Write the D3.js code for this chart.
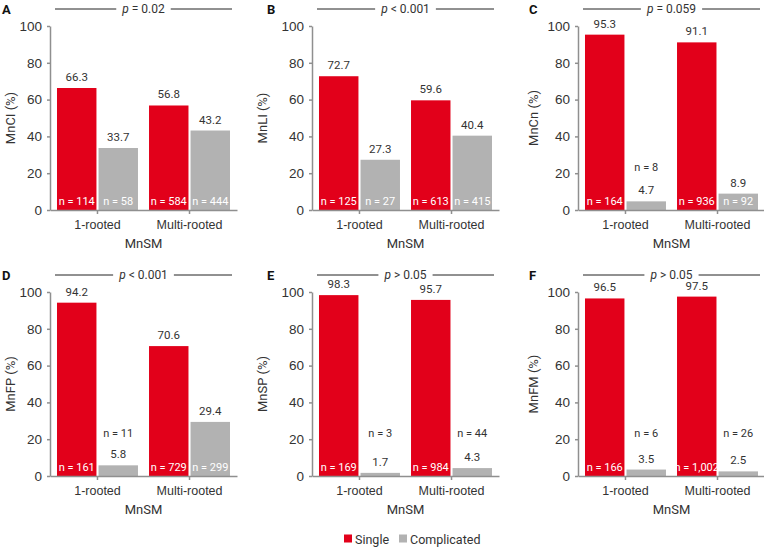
<!DOCTYPE html>
<html><head><meta charset="utf-8">
<script src="https://cdn.jsdelivr.net/npm/d3@7"></script>
<style>
body{margin:0;background:#fff;}
svg{font-family:Roboto,"Liberation Sans",sans-serif;}
</style></head>
<body><svg id="c" width="764" height="547"></svg>
<script>
const categories = ["1-rooted", "Multi-rooted"];
const seriesNames = ["Single", "Complicated"];
const panelLetters = ["A", "B", "C", "D", "E", "F"];
const yTitles = ["MnCI (%)", "MnLI (%)", "MnCn (%)", "MnFP (%)", "MnSP (%)", "MnFM (%)"];
const pRelations = ["=", "<", "=", "<", ">", ">"];
const pValues = ["0.02", "0.001", "0.059", "0.001", "0.05", "0.05"];
const singleValues = [[66.3, 56.8], [72.7, 59.6], [95.3, 91.1], [94.2, 70.6], [98.3, 95.7], [96.5, 97.5]];
const complicatedValues = [[33.7, 43.2], [27.3, 40.4], [4.7, 8.9], [5.8, 29.4], [1.7, 4.3], [3.5, 2.5]];
const singleN = [["114", "584"], ["125", "613"], ["164", "936"], ["161", "729"], ["169", "984"], ["166", "1,002"]];
const complicatedN = [["58", "444"], ["27", "415"], ["8", "92"], ["11", "299"], ["3", "44"], ["6", "26"]];
const yTicks = [0, 20, 40, 60, 80, 100];
const xTitle = "MnSM";

const colors = {Single: "#e2001a", Complicated: "#b2b2b2"};
const axisX = [50, 312, 578];
const rowTop = [26, 292];
const yTitleX = [10, 262, 533];
const letterX = [2, 267, 529];
const W = 187, H = 184;
const txt = "#333";

const svg = d3.select("#c");
const y = d3.scaleLinear().domain([0, 100]).range([H, 0]);
const x0 = d3.scaleBand().domain(categories).range([0, W]).paddingInner(0.12).paddingOuter(0.076);
const x1 = d3.scaleBand().domain(seriesNames).range([0, x0.bandwidth()]).paddingInner(0.05);

panelLetters.forEach((L, i) => {
  const col = i % 3, row = Math.floor(i / 3);
  const g = svg.append("g").attr("transform", `translate(${axisX[col]},${rowTop[row]})`);

  // panel letter
  svg.append("text").attr("x", letterX[col]).attr("y", rowTop[row] - 12)
    .attr("font-weight", "bold").attr("font-size", 13).attr("fill", "#111").text(L);

  // p-value line
  const pg = g.append("g").attr("transform", `translate(0,-17)`);
  const pt = pg.append("text").attr("x", 93.5).attr("y", 3.5).attr("text-anchor", "middle")
    .attr("font-size", 12).attr("fill", txt);
  pt.append("tspan").attr("font-style", "italic").text("p");
  pt.append("tspan").text(` ${pRelations[i]} ${pValues[i]}`);
  const tw = pt.node().getComputedTextLength();
  pg.append("line").attr("x1", 5).attr("x2", 93.5 - tw / 2 - 6).attr("y1", 0).attr("y2", 0)
    .attr("stroke", "#222").attr("stroke-width", 1);
  pg.append("line").attr("x1", 93.5 + tw / 2 + 6).attr("x2", 182).attr("y1", 0).attr("y2", 0)
    .attr("stroke", "#222").attr("stroke-width", 1);

  // y axis
  const ya = g.append("g").call(d3.axisLeft(y).tickValues(yTicks).tickSize(3).tickPadding(5).tickSizeOuter(0));
  ya.selectAll("path,line").attr("stroke", "#8f8f8f").attr("stroke-width", 1.5);
  ya.selectAll("text").attr("font-size", 13.5).attr("fill", txt).attr("font-family", "inherit");

  // bars
  const data = categories.map((c, k) => [
    {cat: c, s: "Single", v: singleValues[i][k], n: singleN[i][k]},
    {cat: c, s: "Complicated", v: complicatedValues[i][k], n: complicatedN[i][k]}
  ]).flat();

  g.selectAll("rect.bar").data(data).join("rect")
    .attr("x", d => x0(d.cat) + x1(d.s)).attr("width", x1.bandwidth())
    .attr("y", d => y(d.v)).attr("height", d => H - y(d.v))
    .attr("fill", d => colors[d.s]);

  // value labels
  g.selectAll("text.val").data(data).join("text")
    .attr("x", d => x0(d.cat) + x1(d.s) + x1.bandwidth() / 2)
    .attr("y", d => Math.max(y(d.v) - 7, -4)).attr("text-anchor", "middle")
    .attr("font-size", 11.5).attr("fill", txt).text(d => d.v.toFixed(1));

  // n labels
  g.selectAll("text.n").data(data).join("text")
    .attr("x", d => x0(d.cat) + x1(d.s) + x1.bandwidth() / 2)
    .attr("y", d => d.v < 8 ? H - 39 : H - 5)
    .attr("text-anchor", "middle").attr("font-size", 11)
    .attr("fill", d => d.v < 8 ? txt : "#fff")
    .text(d => `n = ${d.n}`);

  // x axis
  const xa = g.append("g").attr("transform", `translate(0,${H})`)
    .call(d3.axisBottom(x0).tickSize(4).tickSizeOuter(0).tickPadding(6));
  xa.selectAll("path,line").attr("stroke", "#8f8f8f").attr("stroke-width", 1.5);
  xa.selectAll("text").attr("font-size", 12.5).attr("fill", txt).attr("font-family", "inherit");

  // x title
  g.append("text").attr("x", W / 2).attr("y", H + 38).attr("text-anchor", "middle")
    .attr("font-size", 13).attr("fill", txt).text(xTitle);

  // y title
  svg.append("text").attr("transform", `translate(${yTitleX[col] + 5},${rowTop[row] + H / 2}) rotate(-90)`)
    .attr("text-anchor", "middle").attr("font-size", 13).attr("fill", txt).text(yTitles[i]);
});

// legend
const lg = svg.append("g").attr("transform", "translate(0,539)");
const legendX = [344, 399];
seriesNames.forEach((s, k) => {
  lg.append("rect").attr("x", legendX[k]).attr("y", -4.5).attr("width", 8).attr("height", 8).attr("fill", colors[s]);
  lg.append("text").attr("x", legendX[k] + 11).attr("y", 4.5).attr("font-size", 12.5).attr("fill", txt).text(s);
});
</script></body></html>
